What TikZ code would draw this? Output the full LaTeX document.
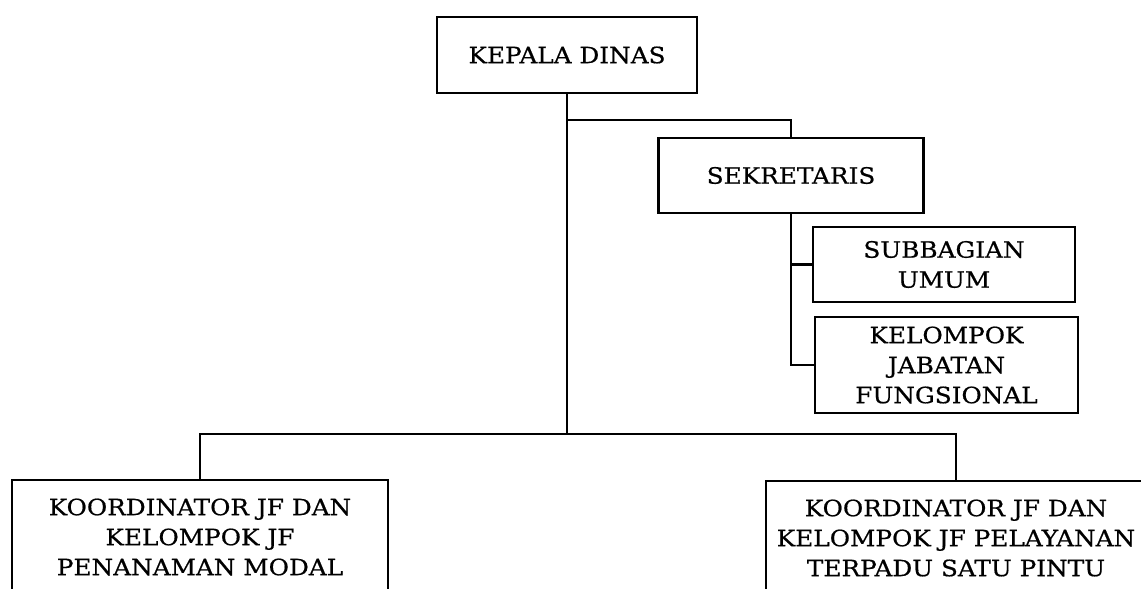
\documentclass[tikz,border=0pt]{standalone}
\usepackage{fontspec}
\setmainfont{DejaVu Serif}[FakeStretch=1.1, FakeBold=0.6]
\begin{document}
\begin{tikzpicture}[x=1pt,y=-1pt,
  unit/.style={draw, line width=2.2pt, align=center, inner sep=0pt,
    font=\fontsize{22.5}{30}\selectfont},
  link/.style={line width=2.2pt}]
\useasboundingbox (0,0) rectangle (1141,589);
\clip (0,0) rectangle (1141,589);
\node[unit, minimum width=260pt, minimum height=76pt] (kepala) at (567,55) {KEPALA DINAS};
\node[unit, minimum width=265pt, minimum height=75pt] (sek) at (791,175.5) {SEKRETARIS};
\node[unit, minimum width=262pt, minimum height=75pt] (sub) at (944,264.5) {SUBBAGIAN\\UMUM};
\node[unit, minimum width=263pt, minimum height=96pt] (kel) at (946.5,365) {KELOMPOK\\JABATAN\\FUNGSIONAL};
\node[unit, minimum width=376pt, minimum height=114pt] (lb) at (200,537) {KOORDINATOR JF DAN\\KELOMPOK JF\\PENANAMAN MODAL};
\node[unit, minimum width=380pt, minimum height=114pt] (rb) at (956,538) {KOORDINATOR JF DAN\\KELOMPOK JF PELAYANAN\\TERPADU SATU PINTU};
\coordinate (j1) at (567,120);
\coordinate (hub) at (567,434);
\draw[link] (kepala.south) -- (hub);
\draw[link] (j1) -| (sek.north);
\draw[link] (sek.south) |- (kel.west);
\draw[link] (sek.south |- sub.west) -- (sub.west);
\draw[link] (lb.north) |- (hub) -| (rb.north);
\end{tikzpicture}
\end{document}
